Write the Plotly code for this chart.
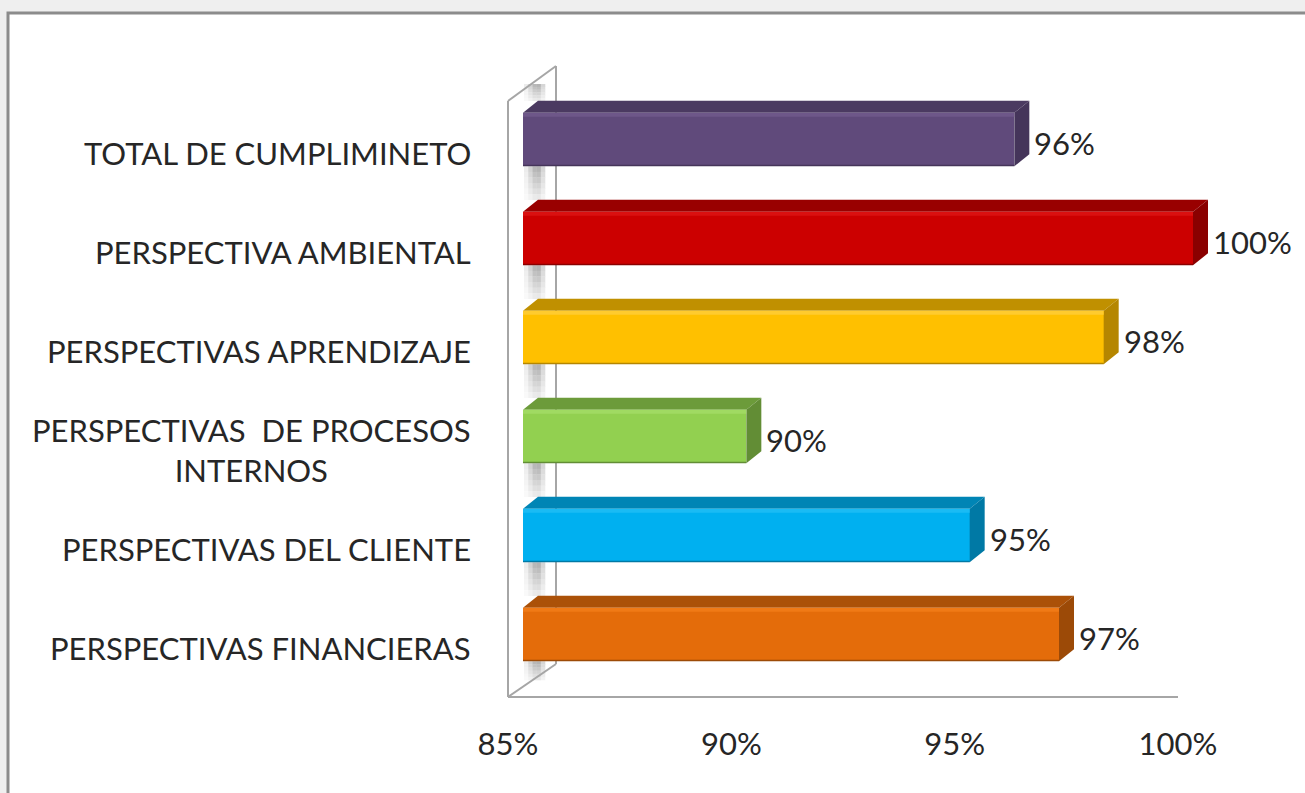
import plotly.graph_objects as go

# ---- data -----------------------------------------------------------------
categories = [
    "TOTAL DE CUMPLIMINETO",
    "PERSPECTIVA AMBIENTAL",
    "PERSPECTIVAS APRENDIZAJE",
    "PERSPECTIVAS\u00a0 DE PROCESOS<br>INTERNOS",
    "PERSPECTIVAS DEL CLIENTE",
    "PERSPECTIVAS FINANCIERAS",
]
values = [0.96, 1.00, 0.98, 0.90, 0.95, 0.97]
value_labels = ["96%", "100%", "98%", "90%", "95%", "97%"]

front_colors = ["#604A7B", "#CC0000", "#FFC000", "#92D050", "#00B0F0", "#E46C0A"]
top_colors = ["#4B3A61", "#990000", "#C09000", "#6C9B3A", "#0085B5", "#AB5108"]
side_colors = ["#45355A", "#8A0000", "#B58600", "#628D35", "#0079A5", "#9C4A07"]
light_colors = ["#6E5789", "#DA1010", "#FFCB2E", "#A0DA62", "#1ABBF4", "#F07A16"]

axis_min, axis_max = 0.85, 1.00
tick_values = [0.85, 0.90, 0.95, 1.00]

# ---- geometry (pixels) ----------------------------------------------------
W, H = 1305, 793
FLOOR_X0, FLOOR_X1, FLOOR_Y = 508, 1178, 697      # front edge of the floor
BAR_SHIFT_X, BAR_SHIFT_Y = 15, 13                  # bars sit mid-depth
DEPTH_X, DEPTH_Y = 15, 12                          # visible bar depth
PITCH = 99                                         # category spacing
BAR_W = 0.54
PAD = 0.02                                         # room for the side faces
FONT = "Lato"
TEXT = "#262626"


def fx(px):
    return px / W


def fy(py):
    return 1 - py / H


n = len(categories)
ypos = list(range(n))
px_per_unit = (FLOOR_X1 - FLOOR_X0) / (axis_max - axis_min)
dxd = DEPTH_X / px_per_unit
dyd = DEPTH_Y / PITCH
hl = 4 / PITCH

bars_top = FLOOR_Y - BAR_SHIFT_Y - n * PITCH
bars_bot = FLOOR_Y - BAR_SHIFT_Y
bars_x0 = FLOOR_X0 + BAR_SHIFT_X
bars_x1 = FLOOR_X1 + BAR_SHIFT_X + PAD * px_per_unit

fig = go.Figure()

# front faces of the bars
for i, v in enumerate(values):
    fig.add_trace(go.Bar(
        x=[v - axis_min], base=axis_min, y=[ypos[i]], orientation="h",
        width=BAR_W, marker=dict(color=front_colors[i], line=dict(width=0)),
        xaxis="x2", yaxis="y", hoverinfo="skip", showlegend=False,
    ))


def poly(xs, ys, color):
    fig.add_trace(go.Scatter(
        x=xs + [xs[0]], y=ys + [ys[0]], mode="lines", fill="toself",
        fillcolor=color, line=dict(width=0, color=color),
        xaxis="x2", yaxis="y", hoverinfo="skip", showlegend=False,
    ))


# top face, right side face and a light bevel along the front top edge
for i, v in enumerate(values):
    yt = ypos[i] - BAR_W / 2
    yb = ypos[i] + BAR_W / 2
    a = axis_min
    poly([a, a + dxd, v + dxd, v], [yt, yt - dyd, yt - dyd, yt], top_colors[i])
    poly([v, v + dxd, v + dxd, v], [yt, yt - dyd, yb - dyd, yb], side_colors[i])
    poly([a, v, v, a], [yt, yt, yt + hl, yt + hl], light_colors[i])
    poly([a, v, v, a], [yb - 1.5 / PITCH, yb - 1.5 / PITCH, yb, yb], side_colors[i])

# value labels just past the side face
annotations = []
for i, v in enumerate(values):
    annotations.append(dict(
        x=v + dxd, y=ypos[i], xref="x2", yref="y", text=value_labels[i],
        showarrow=False, xanchor="left", yanchor="middle", xshift=3, yshift=-3,
        font=dict(family=FONT, size=31, color=TEXT),
    ))

# category labels, right-aligned block with centred lines
for i, c in enumerate(categories):
    annotations.append(dict(
        x=fx(473), y=ypos[i], xref="paper", yref="y", text=c,
        showarrow=False, xanchor="right", yanchor="middle", align="center",
        yshift=-BAR_SHIFT_Y, font=dict(family=FONT, size=31, color=TEXT),
    ))

# ---- background, frame and the 3-D wall --------------------------------
shapes = [
    dict(type="rect", xref="paper", yref="paper", x0=0, x1=1, y0=0, y1=1,
         fillcolor="#EFEFEF", line=dict(width=0), layer="below"),
    dict(type="rect", xref="paper", yref="paper", x0=fx(8), x1=fx(W + 20),
         y0=fy(H + 20), y1=fy(13), fillcolor="#FFFFFF",
         line=dict(color="#8C8C8C", width=3), layer="below"),
]

wall_back_x, wall_top_front, wall_top_back, wall_bot_back = 556, 101, 66, 664

# shading cast on the wall in the gaps between the bars
bar_top_px = [bars_top + (i + 0.5) * PITCH - BAR_W / 2 * PITCH - DEPTH_Y for i in ypos]
bar_bot_px = [bars_top + (i + 0.5) * PITCH + BAR_W / 2 * PITCH for i in ypos]
gaps = [(84, bar_top_px[0])]
gaps += [(bar_bot_px[i], bar_top_px[i + 1]) for i in range(n - 1)]
gaps += [(bar_bot_px[-1], 680)]
col_weights = [0.25, 0.6, 0.95, 1.0, 0.55]
col_w = 4.2
for g0, g1 in gaps:
    rows = 6
    rh = (g1 - g0) / rows
    for r in range(rows):
        row_w = 1.0 - 0.7 * r / (rows - 1)
        for c, cw in enumerate(col_weights):
            level = int(round(255 - 75 * cw * row_w))
            col = "#%02X%02X%02X" % (level, level, level)
            x0 = 524 + c * col_w
            shapes.append(dict(type="rect", xref="paper", yref="paper",
                               x0=fx(x0), x1=fx(x0 + col_w + 0.3),
                               y0=fy(g0 + (r + 1) * rh + 0.3), y1=fy(g0 + r * rh),
                               fillcolor=col, line=dict(width=0), layer="below"))

wall_line = dict(color="#A6A6A6", width=2)
shapes += [
    dict(type="line", xref="paper", yref="paper", x0=fx(FLOOR_X0), x1=fx(FLOOR_X0),
         y0=fy(FLOOR_Y), y1=fy(wall_top_front), line=wall_line, layer="below"),
    dict(type="line", xref="paper", yref="paper", x0=fx(FLOOR_X0), x1=fx(wall_back_x),
         y0=fy(wall_top_front), y1=fy(wall_top_back), line=wall_line, layer="below"),
    dict(type="line", xref="paper", yref="paper", x0=fx(wall_back_x), x1=fx(wall_back_x),
         y0=fy(wall_top_back), y1=fy(wall_bot_back), line=wall_line, layer="below"),
    dict(type="line", xref="paper", yref="paper", x0=fx(wall_back_x), x1=fx(FLOOR_X0),
         y0=fy(wall_bot_back), y1=fy(FLOOR_Y), line=wall_line, layer="below"),
]

# invisible anchor trace so the floor axis gets drawn
fig.add_trace(go.Scatter(x=[axis_min], y=[0], mode="markers",
                         marker=dict(opacity=0), xaxis="x", yaxis="y",
                         hoverinfo="skip", showlegend=False))

fig.update_layout(
    template="none",
    width=W, height=H,
    margin=dict(l=0, r=0, t=0, b=0, pad=0, autoexpand=False),
    paper_bgcolor="#FFFFFF", plot_bgcolor="rgba(0,0,0,0)",
    showlegend=False,
    bargap=0, barmode="overlay",
    xaxis=dict(
        domain=[fx(FLOOR_X0), fx(FLOOR_X1)], range=[axis_min, axis_max],
        anchor="free", position=fy(FLOOR_Y), automargin=False,
        tickvals=tick_values, tickformat=".0%", ticks="",
        showgrid=False, zeroline=False,
        showline=True, linecolor="#A6A6A6", linewidth=2,
        ticklabelstandoff=20,
        tickfont=dict(family=FONT, size=31, color=TEXT),
    ),
    xaxis2=dict(
        domain=[fx(bars_x0), fx(bars_x1)],
        range=[axis_min, axis_max + PAD], anchor="y", visible=False,
        showgrid=False, zeroline=False, automargin=False,
    ),
    yaxis=dict(
        domain=[fy(bars_bot), fy(bars_top)], range=[n - 0.5, -0.5],
        visible=False, showgrid=False, zeroline=False, automargin=False,
    ),
    shapes=shapes,
    annotations=annotations,
)

fig.write_html("out.html")
